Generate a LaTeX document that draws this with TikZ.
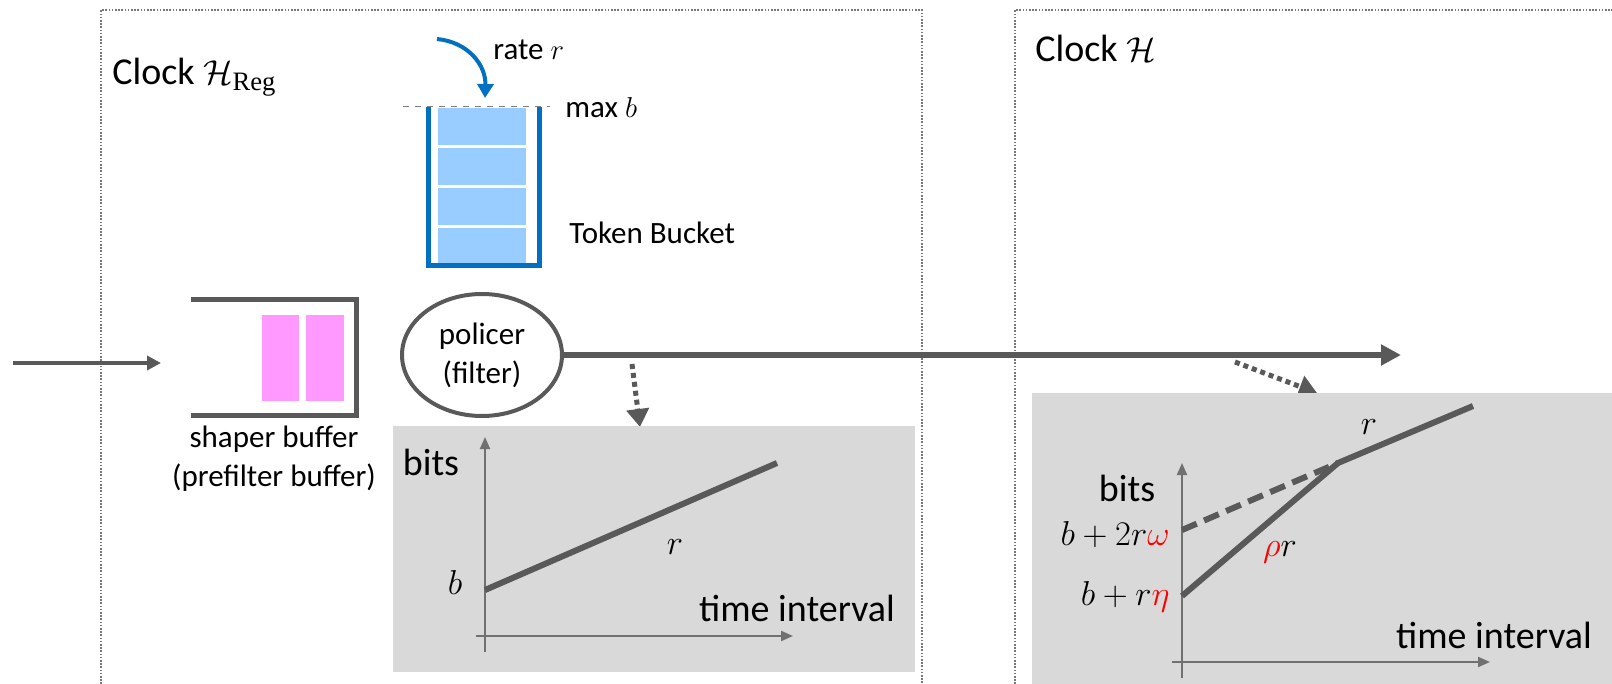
\documentclass[tikz,border=0pt]{standalone}
\usepackage{fontspec}
\setmainfont{Carlito}
\newfontfamily\subfont{Liberation Serif}
\usepackage{amsmath,amssymb}
\usetikzlibrary{arrows.meta,shapes.geometric}
\definecolor{lineGray}{RGB}{89,89,89}
\definecolor{axisGray}{RGB}{112,112,112}
\definecolor{panelGray}{RGB}{217,217,217}
\definecolor{boxGray}{RGB}{120,120,120}
\definecolor{bucketBlue}{RGB}{0,112,192}
\definecolor{tokenBlue}{RGB}{153,204,255}
\definecolor{pktPink}{RGB}{255,153,255}

\begin{document}
\begin{tikzpicture}[x=0.5pt,y=0.5pt,yscale=-1,xscale=1,
  big/.style={font=\fontsize{19}{23}\selectfont,inner sep=0pt},
  small/.style={font=\fontsize{15.5}{19.5}\selectfont,inner sep=0pt},
  clockbox/.style={draw=boxGray,line width=0.8pt,dash pattern=on 0.8pt off 0.8pt},
  flow/.style={draw=lineGray,line width=3pt,-{Triangle[length=10pt,width=10pt]}},
  probe/.style={draw=lineGray,line width=2.5pt,dash pattern=on 2.5pt off 2pt,-{Triangle[length=9pt,width=11pt]}},
  axis/.style={draw=axisGray,line width=1pt,-{Triangle[length=6pt,width=5pt]}},
  curve/.style={draw=lineGray,line width=3pt}
]
\useasboundingbox (0,0) rectangle (1612,684);

%Clock domains
\draw [clockbox] (101,684) -- (101,10) -- (922,10) -- (922,684);
\draw [clockbox] (1015,684) -- (1015,10) -- (1612,10);
\node [big, anchor=base west] (clkreg) at (112,85) {Clock $\mathcal{H}_{\text{\subfont Reg}}$};
\node [big, anchor=base west] (clk) at (1035,62) {Clock $\mathcal{H}$};

%Token bucket
\foreach \y in {108,148,188,228}
  \fill [tokenBlue] (438,\y) rectangle (526,\y+37);
\draw [bucketBlue, line width=2.5pt] (428,107) -- (428,266) -- (539,266) -- (539,107);
\draw [gray, dashed, line width=0.5pt] (403,107) -- (550,107);
\coordinate (rin) at (437,39);
\coordinate (rout) at (485,98);
\draw [bucketBlue, line width=2pt, -{Triangle[length=7pt,width=8pt]}] (rin) .. controls (468,42) and (486,65) .. (rout);

% Text Node
\node [small, anchor=west] (rate) at (493,50) {rate $r$};
% Text Node
\node [small, anchor=west] (maxb) at (565,108) {max $b$};
% Text Node
\node [small, anchor=west] (tb) at (569,233) {Token Bucket};

%Shaper buffer
\draw [lineGray, line width=2.5pt] (191,300) -- (356,300) -- (356,415) -- (191,415);
\fill [pktPink] (262,315) rectangle (299,401);
\fill [pktPink] (306,315) rectangle (344,401);
% Text Node
\node [small, align=center] (shaper) at (274,459) {shaper buffer\\(prefilter buffer)};

%Policer
\node [small, draw=lineGray, line width=2pt, ellipse, minimum width=80pt, minimum height=61pt, align=center] (policer) at (482,355) {policer\\(filter)};

%Straight Lines
\coordinate (src) at (13,363);
\coordinate (srcend) at (161,363);
\draw [lineGray, line width=2pt, -{Triangle[length=7pt,width=7pt]}] (src) -- (srcend);
\coordinate (sink) at (1401,355);
\draw [flow] (policer.east) -- (sink);

%Probes
\coordinate (p1a) at (632,364);
\coordinate (p1b) at (640,427);
\draw [probe] (p1a) -- (p1b);
\coordinate (p2a) at (1235,362);
\coordinate (p2b) at (1317,393);
\draw [probe] (p2a) -- (p2b);

%Left graph
\fill [panelGray] (393,426) rectangle (915,672);
\draw [axis] (485,652) -- (485,437);
\draw [axis] (476,636) -- (793,636);
\draw [curve] (485,590) -- (777,463);
\node [big] (bitsl) at (431,462) {bits};
\node [big] (bl) at (455,582) {$b$};
\node [big] (rl) at (675,547) {$r$};
\node [big] (timel) at (797,608) {time interval};

%Right graph
\fill [panelGray] (1032,393) rectangle (1612,684);
\draw [axis] (1182,678) -- (1182,463);
\draw [axis] (1172,662) -- (1490,662);
\coordinate (knee) at (1338,463);
\draw [curve, dash pattern=on 8pt off 4pt] (1182,530) -- (knee);
\draw [curve, line join=round] (1182,596) -- (knee) -- (1473,406);
\node [big] (rr) at (1369,427) {$r$};
\node [big] (bitsr) at (1127,488) {bits};
\node [big, anchor=east] (bw) at (1170,535) {$b+2r{\color{red}\omega}$};
\node [big, anchor=east] (be) at (1170,597) {$b+r{\color{red}\eta}$};
\node [big] (rhor) at (1280,552) {${\color{red}\rho}r$};
\node [big] (timer) at (1494,635) {time interval};

\end{tikzpicture}
\end{document}
